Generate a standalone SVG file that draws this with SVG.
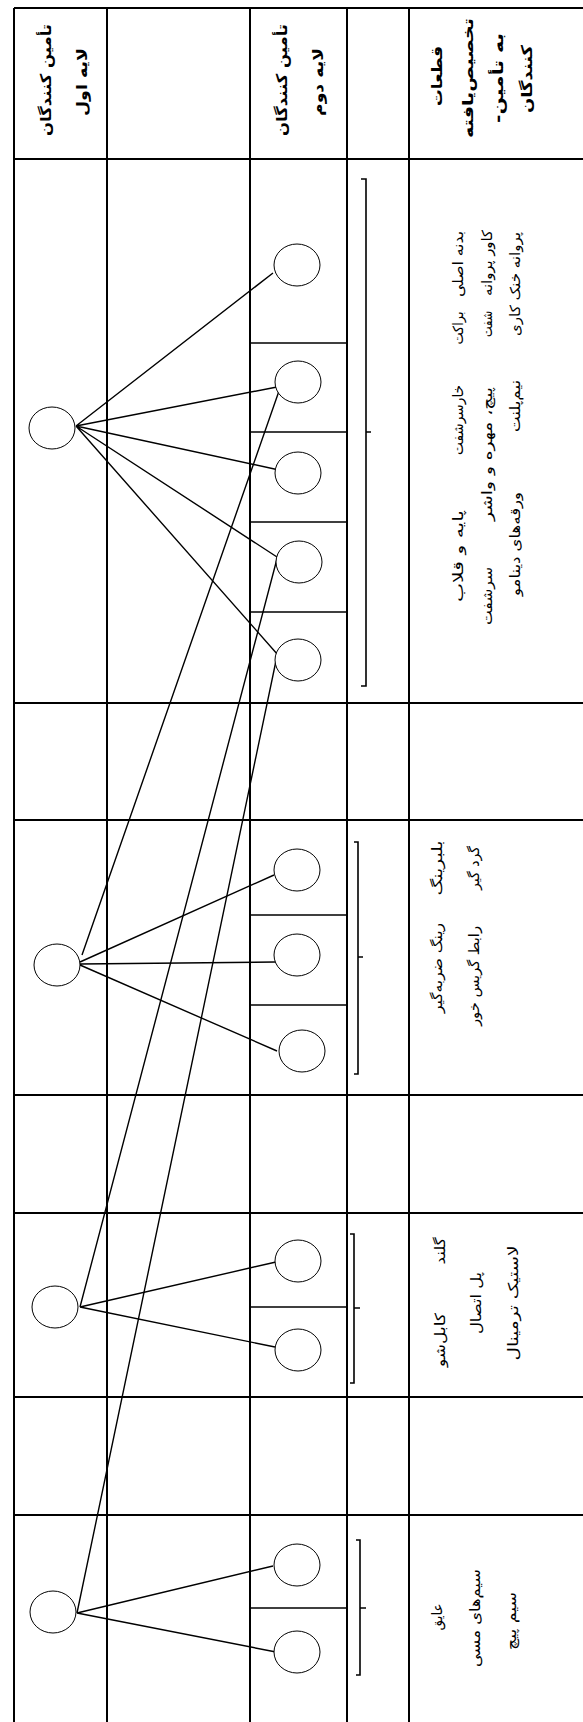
<svg xmlns="http://www.w3.org/2000/svg" width="583" height="1722" viewBox="0 0 583 1722">
<style>
.grid{stroke:#000;stroke-width:2;fill:none}
.sub{stroke:#000;stroke-width:1.6;fill:none}
.node{fill:#fff;stroke:#000;stroke-width:1}
.conn{stroke:#000;stroke-width:1.4;fill:none}
.br{stroke:#000;stroke-width:1.6;fill:none}
text{font-family:"DejaVu Sans",sans-serif;fill:#000;direction:rtl}
.h{font-size:15px;font-weight:bold}
.t{font-size:14px}
</style>
<rect width="583" height="1722" fill="#fff"/>
<g id="table">
<path class="grid" d="M14,8V1722M107,8V1722M250,8V1722M347,8V1722M409,8V1722M14,8H583M14,159H583M14,703H583M14,820H583M14,1095H583M14,1213H583M14,1397H583M14,1515H583"/>
<path class="sub" d="M250,343H347M250,432H347M250,522H347M250,612H347M250,915H347M250,1005H347M250,1307H347M250,1608H347"/>
</g>
<g id="headers">
<text class="h" text-anchor="middle" transform="translate(51,80) rotate(-90)" textLength="112" lengthAdjust="spacingAndGlyphs">تأمین کنندگان</text>
<text class="h" text-anchor="middle" transform="translate(87,82) rotate(-90)" textLength="68" lengthAdjust="spacingAndGlyphs">لایه اول</text>
<text class="h" text-anchor="middle" transform="translate(287,80) rotate(-90)" textLength="112" lengthAdjust="spacingAndGlyphs">تأمین کنندگان</text>
<text class="h" text-anchor="middle" transform="translate(323,82) rotate(-90)" textLength="68" lengthAdjust="spacingAndGlyphs">لایه دوم</text>
<text class="h" text-anchor="middle" transform="translate(442,76) rotate(-90)" textLength="60" lengthAdjust="spacingAndGlyphs">قطعات</text>
<text class="h" text-anchor="middle" transform="translate(473,78) rotate(-90)" textLength="120" lengthAdjust="spacingAndGlyphs">تخصیص‌یافته</text>
<text class="h" text-anchor="middle" transform="translate(503,78) rotate(-90)" textLength="90" lengthAdjust="spacingAndGlyphs">به تأمین-</text>
<text class="h" text-anchor="middle" transform="translate(532,79) rotate(-90)" textLength="68" lengthAdjust="spacingAndGlyphs">کنندگان</text>
</g>
<g id="parts">
<text class="t" text-anchor="middle" transform="translate(463,264) rotate(-90)" textLength="66" lengthAdjust="spacingAndGlyphs">بدنه اصلی</text>
<text class="t" text-anchor="middle" transform="translate(463,328) rotate(-90)" textLength="33" lengthAdjust="spacingAndGlyphs">براکت</text>
<text class="t" text-anchor="middle" transform="translate(463,420) rotate(-90)" textLength="70" lengthAdjust="spacingAndGlyphs">خارسرشفت</text>
<text class="t" text-anchor="middle" transform="translate(463,556) rotate(-90)" textLength="92" lengthAdjust="spacingAndGlyphs">پایه و قلاب</text>
<text class="t" text-anchor="middle" transform="translate(492,263) rotate(-90)" textLength="66" lengthAdjust="spacingAndGlyphs">کاور پروانه</text>
<text class="t" text-anchor="middle" transform="translate(492,324) rotate(-90)" textLength="26" lengthAdjust="spacingAndGlyphs">شفت</text>
<text class="t" text-anchor="middle" transform="translate(492,454) rotate(-90)" textLength="134" lengthAdjust="spacingAndGlyphs">پیچ، مهره و واشر</text>
<text class="t" text-anchor="middle" transform="translate(492,596) rotate(-90)" textLength="58" lengthAdjust="spacingAndGlyphs">سرشفت</text>
<text class="t" text-anchor="middle" transform="translate(520,284) rotate(-90)" textLength="104" lengthAdjust="spacingAndGlyphs">پروانه خنک کاری</text>
<text class="t" text-anchor="middle" transform="translate(520,406) rotate(-90)" textLength="52" lengthAdjust="spacingAndGlyphs">نیم‌پلنت</text>
<text class="t" text-anchor="middle" transform="translate(520,544) rotate(-90)" textLength="104" lengthAdjust="spacingAndGlyphs">ورقه‌های دینامو</text>
<text class="t" text-anchor="middle" transform="translate(442,868) rotate(-90)" textLength="55" lengthAdjust="spacingAndGlyphs">بلبرینگ</text>
<text class="t" text-anchor="middle" transform="translate(442,968) rotate(-90)" textLength="90" lengthAdjust="spacingAndGlyphs">رینگ ضربه‌گیر</text>
<text class="t" text-anchor="middle" transform="translate(479,868) rotate(-90)" textLength="44" lengthAdjust="spacingAndGlyphs">گرد گیر</text>
<text class="t" text-anchor="middle" transform="translate(479,976) rotate(-90)" textLength="100" lengthAdjust="spacingAndGlyphs">رابط گریس خور</text>
<text class="t" text-anchor="middle" transform="translate(445,1251) rotate(-90)" textLength="27" lengthAdjust="spacingAndGlyphs">گلند</text>
<text class="t" text-anchor="middle" transform="translate(445,1340) rotate(-90)" textLength="54" lengthAdjust="spacingAndGlyphs">کابل‌شو</text>
<text class="t" text-anchor="middle" transform="translate(481,1303) rotate(-90)" textLength="62" lengthAdjust="spacingAndGlyphs">پل اتصال</text>
<text class="t" text-anchor="middle" transform="translate(518,1303) rotate(-90)" textLength="115" lengthAdjust="spacingAndGlyphs">لاستیک ترمینال</text>
<text class="t" text-anchor="middle" transform="translate(442,1617) rotate(-90)" textLength="27" lengthAdjust="spacingAndGlyphs">عایق</text>
<text class="t" text-anchor="middle" transform="translate(480,1618) rotate(-90)" textLength="98" lengthAdjust="spacingAndGlyphs">سیم‌های مسی</text>
<text class="t" text-anchor="middle" transform="translate(516,1621) rotate(-90)" textLength="58" lengthAdjust="spacingAndGlyphs">سیم پیچ</text>
</g>
<g id="brackets">
<path class="br" d="M361,179H366V686H361M366,432H371"/>
<path class="br" d="M354,842H358V1074H354M358,957H363"/>
<path class="br" d="M350,1234H354V1383H350M354,1308H360"/>
<path class="br" d="M356,1540H360V1675H356M360,1608H366"/>
</g>
<g id="connectors">
<path class="conn" d="M76,426L273,273M76,426L277,387M76,426L279,470M76,426L277,557M76,426L278,655"/>
<path class="conn" d="M80,962L274,875M80,964L275,962M80,965L277,1051"/>
<path class="conn" d="M80,1307L276,1262M80,1307L275,1347"/>
<path class="conn" d="M77,1613L273,1566M77,1613L276,1652"/>
<path class="conn" d="M279,391L82,955M278,555L80,1307M277,656L77,1613"/>
</g>
<g id="n1a"><ellipse class="node" cx="52" cy="428" rx="23" ry="21"/></g>
<g id="n1b"><ellipse class="node" cx="57" cy="965" rx="23" ry="21"/></g>
<g id="n1c"><ellipse class="node" cx="55" cy="1307" rx="23" ry="21"/></g>
<g id="n1d"><ellipse class="node" cx="53" cy="1612" rx="23" ry="21"/></g>
<g id="n2a"><ellipse class="node" cx="297" cy="265" rx="23" ry="21"/></g>
<g id="n2b"><ellipse class="node" cx="298" cy="382" rx="23" ry="21"/></g>
<g id="n2c"><ellipse class="node" cx="298" cy="473" rx="23" ry="21"/></g>
<g id="n2d"><ellipse class="node" cx="299" cy="562" rx="23" ry="21"/></g>
<g id="n2e"><ellipse class="node" cx="298" cy="660" rx="23" ry="21"/></g>
<g id="n2f"><ellipse class="node" cx="297" cy="870" rx="23" ry="21"/></g>
<g id="n2g"><ellipse class="node" cx="297" cy="955" rx="23" ry="21"/></g>
<g id="n2h"><ellipse class="node" cx="302" cy="1051" rx="23" ry="21"/></g>
<g id="n2i"><ellipse class="node" cx="298" cy="1261" rx="23" ry="21"/></g>
<g id="n2j"><ellipse class="node" cx="298" cy="1350" rx="23" ry="21"/></g>
<g id="n2k"><ellipse class="node" cx="297" cy="1565" rx="23" ry="21"/></g>
<g id="n2l"><ellipse class="node" cx="297" cy="1652" rx="23" ry="21"/></g>
</svg>
